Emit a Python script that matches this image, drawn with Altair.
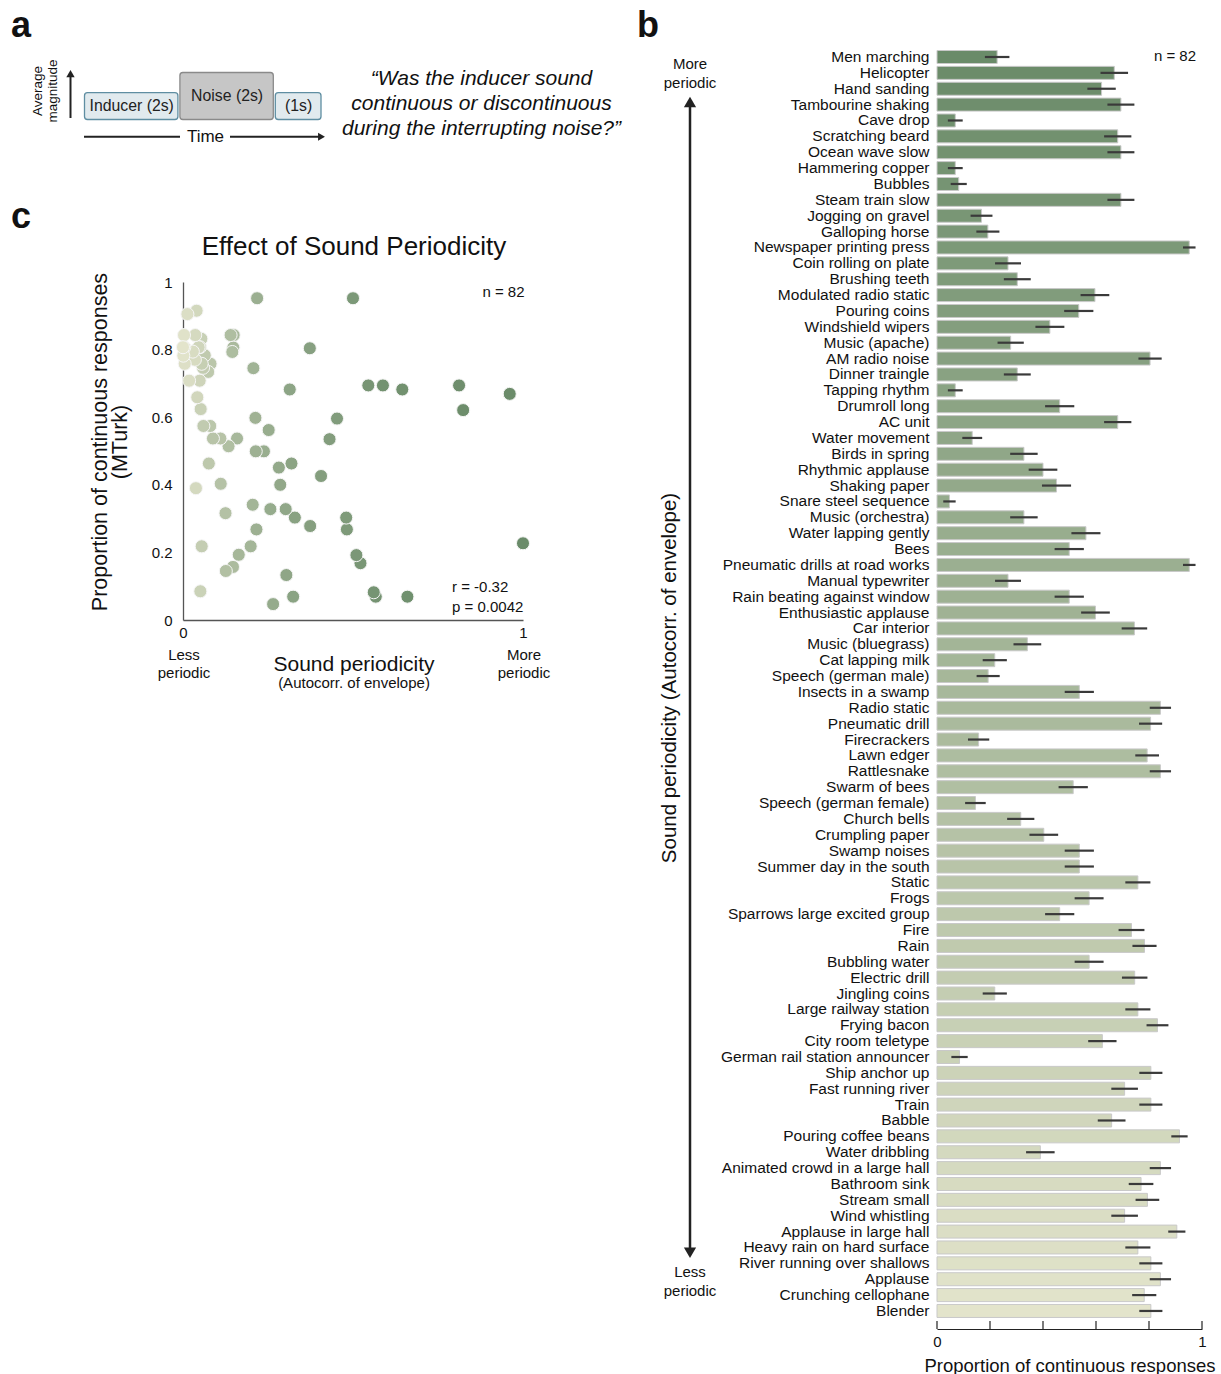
import altair as alt
import pandas as pd

# Sounds, ordered from most to least periodic envelope
sounds = [
    "Men marching", "Helicopter", "Hand sanding", "Tambourine shaking", "Cave drop",
    "Scratching beard", "Ocean wave slow", "Hammering copper", "Bubbles", "Steam train slow",
    "Jogging on gravel", "Galloping horse", "Newspaper printing press", "Coin rolling on plate",
    "Brushing teeth", "Modulated radio static", "Pouring coins", "Windshield wipers",
    "Music (apache)", "AM radio noise", "Dinner traingle", "Tapping rhythm", "Drumroll long",
    "AC unit", "Water movement", "Birds in spring", "Rhythmic applause", "Shaking paper",
    "Snare steel sequence", "Music (orchestra)", "Water lapping gently", "Bees",
    "Pneumatic drills at road works", "Manual typewriter", "Rain beating against window",
    "Enthusiastic applause", "Car interior", "Music (bluegrass)", "Cat lapping milk",
    "Speech (german male)", "Insects in a swamp", "Radio static", "Pneumatic drill",
    "Firecrackers", "Lawn edger", "Rattlesnake", "Swarm of bees", "Speech (german female)",
    "Church bells", "Crumpling paper", "Swamp noises", "Summer day in the south", "Static",
    "Frogs", "Sparrows large excited group", "Fire", "Rain", "Bubbling water", "Electric drill",
    "Jingling coins", "Large railway station", "Frying bacon", "City room teletype",
    "German rail station announcer", "Ship anchor up", "Fast running river", "Train", "Babble",
    "Pouring coffee beans", "Water dribbling", "Animated crowd in a large hall", "Bathroom sink",
    "Stream small", "Wind whistling", "Applause in large hall", "Heavy rain on hard surface",
    "River running over shallows", "Applause", "Crunching cellophane", "Blender",
]

# Sound periodicity (autocorrelation of the envelope)
periodicity = [
    1.000, 0.961, 0.824, 0.812, 0.660, 0.645, 0.588, 0.567, 0.561, 0.545,
    0.522, 0.510, 0.500, 0.482, 0.480, 0.453, 0.431, 0.406, 0.374, 0.373,
    0.329, 0.324, 0.319, 0.314, 0.304, 0.302, 0.286, 0.282, 0.265, 0.257,
    0.252, 0.238, 0.218, 0.216, 0.214, 0.213, 0.207, 0.205, 0.199, 0.164,
    0.159, 0.149, 0.148, 0.147, 0.145, 0.140, 0.134, 0.126, 0.125, 0.111,
    0.110, 0.088, 0.081, 0.080, 0.076, 0.074, 0.064, 0.060, 0.059, 0.055,
    0.055, 0.054, 0.052, 0.051, 0.050, 0.049, 0.046, 0.042, 0.040, 0.038,
    0.036, 0.035, 0.029, 0.018, 0.013, 0.005, 0.004, 0.003, 0.001, 0.000,
]

# Proportion of "continuous" responses per sound
prop_continuous = [
    0.227, 0.669, 0.621, 0.694, 0.069, 0.682, 0.694, 0.069, 0.082, 0.694,
    0.168, 0.192, 0.952, 0.268, 0.303, 0.596, 0.535, 0.426, 0.278, 0.804,
    0.303, 0.069, 0.463, 0.682, 0.133, 0.328, 0.400, 0.451, 0.047, 0.328,
    0.562, 0.499, 0.952, 0.268, 0.499, 0.598, 0.745, 0.341, 0.218, 0.193,
    0.537, 0.843, 0.806, 0.157, 0.793, 0.843, 0.514, 0.145, 0.316, 0.403,
    0.537, 0.537, 0.758, 0.574, 0.463, 0.734, 0.783, 0.574, 0.746, 0.218,
    0.758, 0.832, 0.624, 0.085, 0.807, 0.708, 0.807, 0.659, 0.915, 0.390,
    0.843, 0.770, 0.794, 0.708, 0.905, 0.758, 0.807, 0.843, 0.782, 0.807,
]

n_listeners = 82

# Trial schematic: segment, start (s), end (s), relative magnitude
segments = ["Inducer (2s)", "Noise (2s)", "(1s)"]
seg_start = [0, 2, 4]
seg_end = [2, 4, 5]
seg_level = [1.0, 1.75, 1.0]
seg_kind = ["inducer", "noise", "inducer"]

bar_ticks_at = [0, 0.2, 0.4, 0.6, 0.8, 1.0]

df = pd.DataFrame({"sound": sounds, "periodicity": periodicity, "prop": prop_continuous})
df["rank"] = range(len(df))
seg_df = pd.DataFrame({"label": segments, "start": seg_start, "end": seg_end,
                       "level": seg_level, "kind": seg_kind})
tick_df = pd.DataFrame({"t": bar_ticks_at})
one = pd.DataFrame({"k": [0]})

FONT = "Liberation Sans"
INK = "#111111"
DARK = "#6a8b69"
LIGHT = "#e3e4cb"
W, H = 1221, 1374

shade = alt.Color("rank:Q", legend=None,
                  scale=alt.Scale(domain=[0, len(sounds) - 1], range=[DARK, LIGHT], interpolate="rgb"))


def note(text, x, y, size=15, align="center", baseline="middle", angle=None,
         weight="normal", style="normal", line_height=None):
    """Text anchored at (x, y); multi-line blocks are centred on that point."""
    kw = dict(font=FONT, fontSize=size, align=align, baseline=baseline,
              fontWeight=weight, fontStyle=style, color=INK)
    if isinstance(text, list) and line_height:
        shift = (len(text) - 1) * line_height / 2
        if angle == 270:
            x -= shift
        else:
            y -= shift
        kw["lineHeight"] = line_height
    if angle is not None:
        kw["angle"] = angle
    return alt.Chart(one).mark_text(**kw).encode(
        x=alt.value(x), y=alt.value(y), text=alt.value(text))


def seg(x1, y1, x2, y2, width=2.0, color="#222222"):
    return alt.Chart(one).mark_rule(color=color, strokeWidth=width).encode(
        x=alt.value(x1), y=alt.value(y1), x2=alt.value(x2), y2=alt.value(y2))


def head(x, y, shape, size):
    return alt.Chart(one).mark_point(shape=shape, filled=True, size=size,
                                     color="#222222", opacity=1).encode(
        x=alt.value(x), y=alt.value(y))


# ---------------- panel a: trial schematic ----------------
a_x = alt.Scale(domain=[0, 5], range=[84, 322.5])
a_y = alt.Scale(domain=[0, 1.75], range=[119.5, 72.5])
boxes = alt.Chart(seg_df).transform_calculate(base="0").mark_rect(
    cornerRadius=3, strokeWidth=1.3, xOffset=0.5, x2Offset=-1.5
).encode(
    x=alt.X("start:Q", scale=a_x, axis=None),
    x2="end:Q",
    y=alt.Y("base:Q", scale=a_y, axis=None),
    y2="level:Q",
    color=alt.Color("kind:N", legend=None,
                    scale=alt.Scale(domain=["inducer", "noise"], range=["#e1eaee", "#c6c6c6"])),
    stroke=alt.Stroke("kind:N", legend=None,
                      scale=alt.Scale(domain=["inducer", "noise"], range=["#5f8ea2", "#8a8a8a"])),
)
box_text = alt.Chart(seg_df).transform_calculate(
    mid="(datum.start + datum.end) / 2", half="datum.level / 2"
).mark_text(font=FONT, fontSize=15.8, color="#222222").encode(
    x=alt.X("mid:Q", scale=a_x, axis=None),
    y=alt.Y("half:Q", scale=a_y, axis=None),
    text="label:N",
)

# ---------------- panel b: bars per sound ----------------
bar_x = alt.Scale(domain=[0, 1], range=[937, 1202])
bar_y = alt.Scale(domain=sounds, range=[49.06, 1318.9], paddingInner=0.18, paddingOuter=0.09)

bars = alt.Chart(df).mark_bar(stroke="#c9c9c9", strokeWidth=1).encode(
    y=alt.Y("sound:N", scale=bar_y,
            axis=alt.Axis(orient="left", offset=-937, domain=False, ticks=False, tickSize=0,
                          labelPadding=8, labelFont=FONT, labelFontSize=15.5, labelColor=INK,
                          labelLimit=400, labelOverlap=False, labelBound=False, title=None)),
    x=alt.X("prop:Q", scale=bar_x,
            axis=alt.Axis(orient="bottom", offset=-45, values=[0, 1], format="d", ticks=False,
                          grid=False, labelFlush=False, domainColor="#222222", domainWidth=1.2,
                          labelFont=FONT, labelFontSize=15, labelColor=INK, labelPadding=5,
                          title="Proportion of continuous responses", titleFont=FONT,
                          titleFontSize=18.5, titleFontWeight="normal", titleColor=INK,
                          titlePadding=7)),
    color=shade,
)
errs = alt.Chart(df).transform_calculate(
    se=f"sqrt(datum.prop * (1 - datum.prop) / {n_listeners})"
).transform_calculate(
    lo="datum.prop - datum.se", hi="datum.prop + datum.se"
).mark_rule(color="#3a3a3a", strokeWidth=2.2).encode(
    y=alt.Y("sound:N", scale=bar_y, axis=None),
    x=alt.X("lo:Q", scale=bar_x, axis=None),
    x2="hi:Q",
)
bar_ticks = alt.Chart(tick_df).mark_rule(color="#222222", strokeWidth=1.2).encode(
    x=alt.X("t:Q", scale=bar_x, axis=None),
    y=alt.value(1321), y2=alt.value(1329),
)

# ---------------- panel c: periodicity vs continuity ----------------
sc_x = alt.Scale(domain=[0, 1], range=[183, 523])
sc_y = alt.Scale(domain=[0, 1], range=[620, 282])
points = alt.Chart(df).mark_circle(size=170, opacity=1, stroke="#f6f6f6", strokeWidth=1).encode(
    x=alt.X("periodicity:Q", scale=sc_x,
            axis=alt.Axis(orient="bottom", offset=620 - H, values=[0, 1], format="d", ticks=False,
                          grid=False, labelFlush=False, domainColor="#555555", domainWidth=1.3,
                          labelFont=FONT, labelFontSize=15, labelColor=INK, labelPadding=5,
                          title=None)),
    y=alt.Y("prop:Q", scale=sc_y,
            axis=alt.Axis(orient="left", offset=-183, values=[0, 0.2, 0.4, 0.6, 0.8, 1],
                          format="~g", ticks=False, grid=False, labelFlush=False,
                          domainColor="#555555", domainWidth=1.3, labelFont=FONT,
                          labelFontSize=15, labelColor=INK, labelPadding=11, title=None)),
    color=shade,
)

notes = [
    # panel letters
    note("a", 11, 37, size=36, align="left", baseline="alphabetic", weight="bold"),
    note("b", 637, 37, size=36, align="left", baseline="alphabetic", weight="bold"),
    note("c", 11, 228, size=36, align="left", baseline="alphabetic", weight="bold"),
    # panel a
    note(["Average", "magnitude"], 45, 91, size=13.5, angle=270, line_height=15),
    seg(70.5, 118, 70.5, 77),
    head(70.5, 73.7, "triangle-up", 70),
    seg(84, 136.7, 180, 136.7),
    seg(230, 136.7, 320, 136.7),
    head(321.5, 136.7, "triangle-right", 64),
    note("Time", 205.5, 137, size=17),
    note(["\u201cWas the inducer sound", "continuous or discontinuous",
          "during the interrupting noise?\u201d"], 481.5, 104, size=21, style="italic",
         line_height=25),
    # panel b
    note("n = 82", 1175, 56, size=15),
    note(["More", "periodic"], 690, 73.5, size=15, line_height=18.5),
    seg(690, 106, 690, 1248, width=2.5),
    head(690, 102, "triangle-up", 150),
    head(690, 1252.7, "triangle-down", 150),
    note("Sound periodicity (Autocorr. of envelope)", 670, 678, size=20.5, angle=270),
    note(["Less", "periodic"], 690, 1281.5, size=15, line_height=18.5),
    # panel c
    note("Effect of Sound Periodicity", 354, 247, size=26),
    note(["Proportion of continuous responses", "(MTurk)"], 111, 442, size=21.5, angle=270,
         line_height=20),
    note("n = 82", 503.5, 291.5, size=15),
    note("r = -0.32", 452, 586.5, size=15, align="left"),
    note("p = 0.0042", 452, 606.5, size=15, align="left"),
    note(["Less", "periodic"], 184, 664, size=15, line_height=18),
    note(["More", "periodic"], 524, 664, size=15, line_height=18),
    note("Sound periodicity", 354, 665, size=21),
    note("(Autocorr. of envelope)", 354, 682.5, size=15),
]

chart = alt.layer(boxes, box_text, bars, errs, bar_ticks, points, *notes).resolve_scale(
    x="independent", y="independent", color="independent", stroke="independent"
).properties(
    width=W, height=H, autosize=alt.AutoSizeParams(type="none"), padding=0,
    background="white",
).configure_view(stroke=None)

chart.save("out.html", embed_options={"renderer": "svg", "actions": False})
